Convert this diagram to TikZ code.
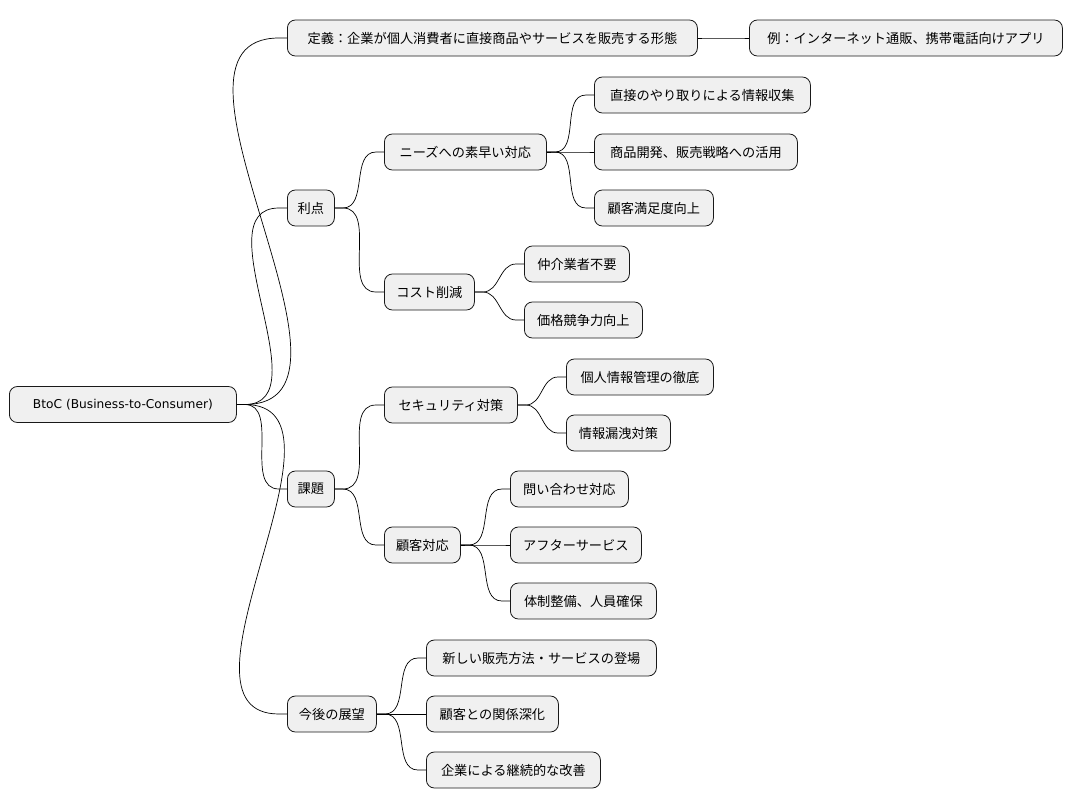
\documentclass[tikz,border=0pt]{standalone}
\usepackage{fontspec}
\setmainfont{DejaVu Sans}
\newfontfamily\jp{Noto Sans CJK JP}
\usetikzlibrary{calc}
\begin{document}
\begin{tikzpicture}[x=1pt,y=-1pt,
  box/.style={draw=black!90,fill=black!6,rounded corners=8pt,anchor=west,minimum height=36pt,inner xsep=0pt,font=\jp\fontsize{13.2}{15}\selectfont,line width=0.8pt,align=center},
  w/.style={box,text width=#1pt},
  ln/.style={line width=0.7pt}]
\useasboundingbox (0,0) rectangle (1073,809);
\node[w=227,font=\fontsize{12.2}{15}\selectfont] (root) at (9,404.5) {BtoC (Business-to-Consumer)};
\node[w=410] (def) at (287,38) {定義：企業が個人消費者に直接商品やサービスを販売する形態};
\node[w=313] (ex) at (749,38) {例：インターネット通販、携帯電話向けアプリ};
\node[w=47] (adv) at (287,208) {利点};
\node[w=162] (needs) at (384,152) {ニーズへの素早い対応};
\node[w=216] (n1) at (594,95) {直接のやり取りによる情報収集};
\node[w=203] (n2) at (594,152) {商品開発、販売戦略への活用};
\node[w=119] (n3) at (594,208) {顧客満足度向上};
\node[w=90] (cost) at (384,292) {コスト削減};
\node[w=105] (c1) at (524,264) {仲介業者不要};
\node[w=118] (c2) at (524,320) {価格競争力向上};
\node[w=47] (iss) at (287,489) {課題};
\node[w=133] (sec) at (384,405) {セキュリティ対策};
\node[w=147] (s1) at (566,377) {個人情報管理の徹底};
\node[w=104] (s2) at (566,433) {情報漏洩対策};
\node[w=76] (cs) at (384,545) {顧客対応};
\node[w=118] (k1) at (510,489) {問い合わせ対応};
\node[w=131] (k2) at (510,545) {アフターサービス};
\node[w=146] (k3) at (510,601) {体制整備、人員確保};
\node[w=89] (fut) at (287,714) {今後の展望};
\node[w=230] (f1) at (426,658) {新しい販売方法・サービスの登場};
\node[w=132] (f2) at (426,714) {顧客との関係深化};
\node[w=174] (f3) at (426,770) {企業による継続的な改善};
\foreach \a/\b in {root/def,root/adv,root/iss,root/fut,def/ex,adv/needs,adv/cost,needs/n1,needs/n2,needs/n3,cost/c1,cost/c2,iss/sec,iss/cs,sec/s1,sec/s2,cs/k1,cs/k2,cs/k3,fut/f1,fut/f2,fut/f3}
  \draw[ln] (\a.east) -- ++(8,0) to[out=0,in=180] ($(\b.west)+(-8,0)$) -- (\b.west);
\end{tikzpicture}
\end{document}
